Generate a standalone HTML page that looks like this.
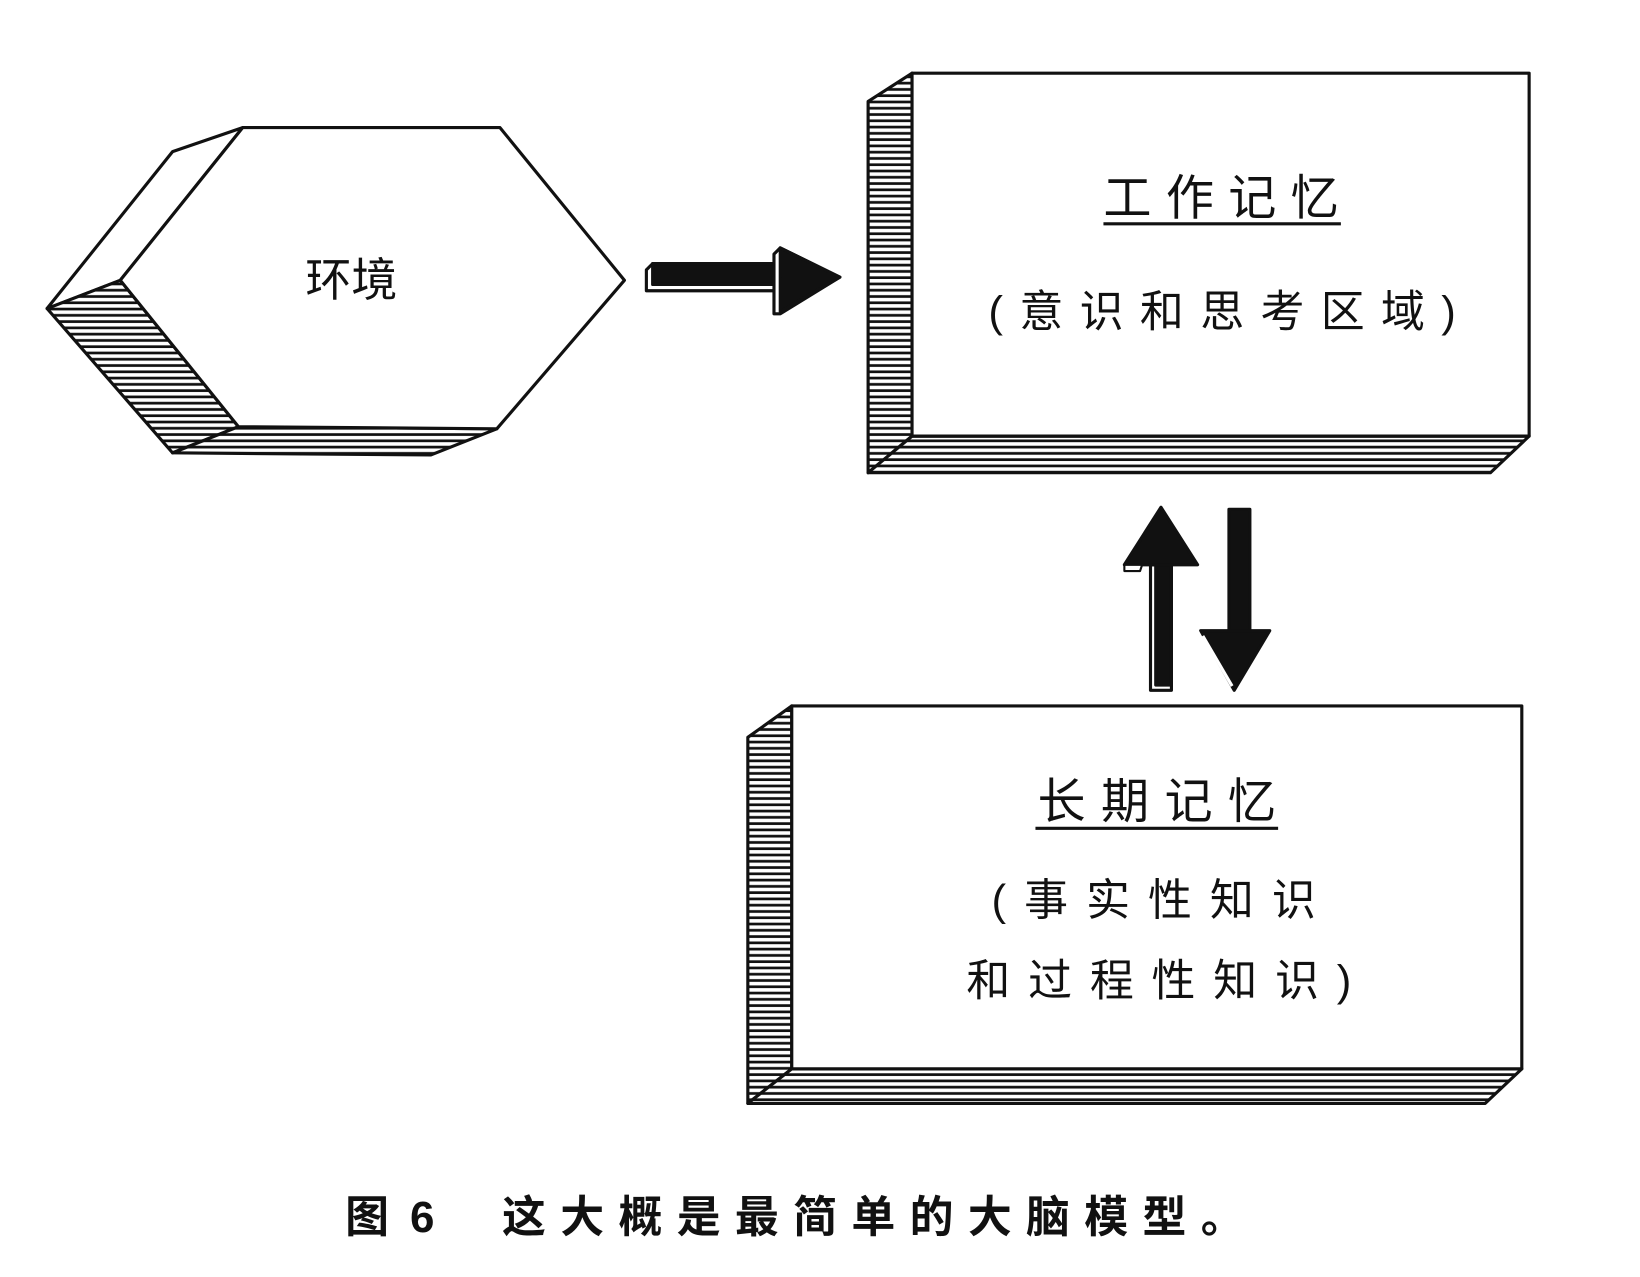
<!DOCTYPE html>
<html><head><meta charset="utf-8"><style>
html,body{margin:0;padding:0;background:#fff;}
svg{display:block;}
text{font-family:"Liberation Sans","Noto Sans CJK SC","WenQuanYi Zen Hei",sans-serif;fill:#111;}
</style></head><body>
<svg width="1640" height="1277" viewBox="0 0 1568 1221" preserveAspectRatio="none" xmlns="http://www.w3.org/2000/svg">
<defs>
<pattern id="h" patternUnits="userSpaceOnUse" width="8" height="6">
<rect width="8" height="6" fill="#fff"/><line x1="0" y1="1.5" x2="8" y2="1.5" stroke="#111" stroke-width="2.6"/>
</pattern>
</defs>
<g stroke="#111" stroke-width="3" stroke-linejoin="round">
<polygon points="45,295 165,145 232,122 115,268" fill="#fff"/>
<polygon points="115,268 228,408 165,433 45,295" fill="url(#h)"/>
<polygon points="228,408 475,410 412,435 165,433" fill="url(#h)"/>
<polygon points="232,122 478,122 597,268 475,410 228,408 115,268" fill="#fff"/>
<polygon points="618,258 624,252 745,252 745,278 618,278" fill="#fff"/>
<polygon points="624,252 745,252 745,272 624,272" fill="#111"/>
<polygon points="740,243 746,237 803,265 746,300 740,300" fill="#fff"/>
<polygon points="746,237 803,265 746,298" fill="#111"/>
<polygon points="830,97 872,70 872,417 830,452" fill="url(#h)"/>
<polygon points="872,417 1462,417 1425,452 830,452" fill="url(#h)"/>
<rect x="872" y="70" width="590" height="347" fill="#fff"/>
<polygon points="1100,540 1120,540 1120,660 1100,660" fill="#fff"/>
<polygon points="1105,540 1120,540 1120,655 1105,655" fill="#111"/>
<polygon points="1075,540 1110,485 1145,540" fill="#111"/>
<polygon points="1075,540 1092,540 1090,546 1075,546" fill="#fff" stroke-width="2"/>
<polygon points="1175,487 1195,487 1195,605 1175,605" fill="#111"/>
<polygon points="1148,603 1214,603 1180,660" fill="#111"/>
<line x1="1150" y1="608" x2="1178" y2="656" stroke="#fff" stroke-width="3"/>
<polygon points="715,705 757,675 757,1022 715,1055" fill="url(#h)"/>
<polygon points="757,1022 1455,1022 1420,1055 715,1055" fill="url(#h)"/>
<rect x="757" y="675" width="698" height="347" fill="#fff"/>
</g>
<text x="336" y="283" font-size="44" text-anchor="middle">环境</text>
<text x="1055" y="205" font-size="46" textLength="225" lengthAdjust="spacing">工作记忆</text>
<line x1="1055" y1="214" x2="1282" y2="214" stroke="#111" stroke-width="3"/>
<text x="945" y="312" font-size="42" textLength="447" lengthAdjust="spacing">(意识和思考区域)</text>
<text x="992" y="782" font-size="46" textLength="228" lengthAdjust="spacing">长期记忆</text>
<line x1="990" y1="792" x2="1222" y2="792" stroke="#111" stroke-width="3"/>
<text x="948" y="875" font-size="42" textLength="310" lengthAdjust="spacing">(事实性知识</text>
<text x="924" y="952" font-size="42" textLength="368" lengthAdjust="spacing">和过程性知识)</text>
<text x="330" y="1178" font-size="42" font-weight="bold">图</text>
<text x="392" y="1178" font-size="42" font-weight="bold">6</text>
<text x="480" y="1178" font-size="42" font-weight="bold" textLength="710" lengthAdjust="spacing">这大概是最简单的大脑模型。</text>
</svg>
</body></html>
